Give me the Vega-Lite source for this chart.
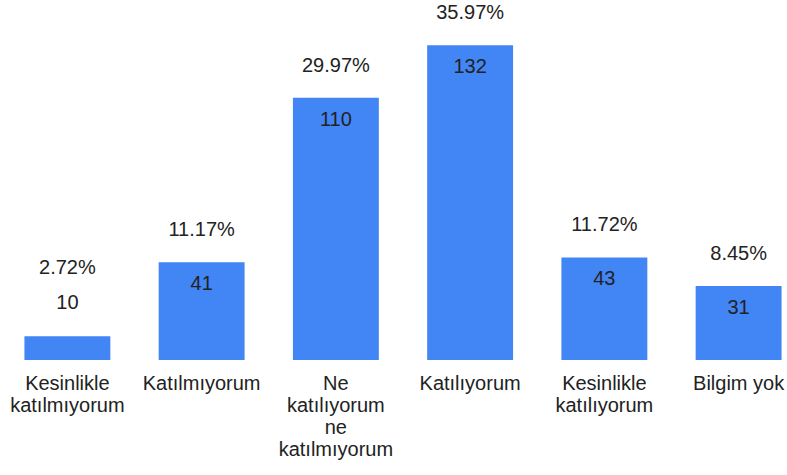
{
  "$schema": "https://vega.github.io/schema/vega-lite/v6.json",
  "autosize": "none",
  "width": 784,
  "height": 360,
  "padding": {"left": 11, "top": 0, "right": 0, "bottom": 115},
  "background": "white",
  "config": {"view": {"stroke": null}, "font": "Liberation Sans"},
  "data": {"values": [
    {"cat": "Kesinlikle katılmıyorum", "n": 10, "pct": "2.72%"},
    {"cat": "Katılmıyorum", "n": 41, "pct": "11.17%"},
    {"cat": "Ne katılıyorum ne katılmıyorum", "n": 110, "pct": "29.97%"},
    {"cat": "Katılıyorum", "n": 132, "pct": "35.97%"},
    {"cat": "Kesinlikle katılıyorum", "n": 43, "pct": "11.72%"},
    {"cat": "Bilgim yok", "n": 31, "pct": "8.45%"}
  ]},
  "encoding": {
    "x": {"field": "cat", "type": "nominal", "sort": null,
      "scale": {"paddingInner": 0.36, "paddingOuter": 0.1},
      "axis": {"title": null, "domain": false, "ticks": false, "labelAngle": 0,
        "labelFontSize": 20, "labelColor": "#222222", "labelLineHeight": 22,
        "labelPadding": 13, "labelBaseline": "top", "labelLimit": 200,
        "labelExpr": "datum.label == 'Bilgim yok' ? datum.label : split(datum.label, ' ')"}},
    "y": {"field": "n", "type": "quantitative", "scale": {"domain": [0, 151], "nice": false}, "axis": null}
  },
  "layer": [
    {"mark": {"type": "bar", "color": "#4285F4"}},
    {"transform": [{"filter": "datum.n > 20"}],
     "mark": {"type": "text", "baseline": "middle", "dy": 22, "fontSize": 20, "color": "#222222"},
     "encoding": {"text": {"field": "n"}}},
    {"transform": [{"filter": "datum.n > 20"}],
     "mark": {"type": "text", "baseline": "middle", "dy": -32, "fontSize": 20, "color": "#222222"},
     "encoding": {"text": {"field": "pct"}}},
    {"transform": [{"filter": "datum.n <= 20"}],
     "mark": {"type": "text", "baseline": "middle", "dy": -33, "fontSize": 20, "color": "#222222"},
     "encoding": {"text": {"field": "n"}}},
    {"transform": [{"filter": "datum.n <= 20"}],
     "mark": {"type": "text", "baseline": "middle", "dy": -68, "fontSize": 20, "color": "#222222"},
     "encoding": {"text": {"field": "pct"}}}
  ]
}
